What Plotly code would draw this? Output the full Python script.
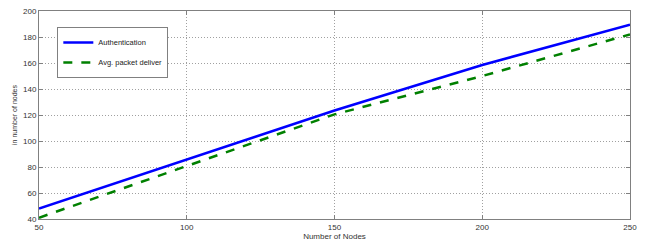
import plotly.graph_objects as go

nodes = [50, 100, 150, 200, 250]
auth = [48, 86, 123.5, 158.5, 189.5]
pdr = [41, 80.5, 120.5, 150, 182]
x_ticks = [50, 100, 150, 200, 250]
y_ticks = [40, 60, 80, 100, 120, 140, 160, 180, 200]

FONT = "Liberation Sans, Arial"

fig = go.Figure()
fig.add_trace(go.Scatter(x=nodes, y=auth, mode="lines", name="Authentication",
                         line=dict(color="#0000ff", width=2.5), legendgroup="a"))
fig.add_trace(go.Scatter(x=nodes, y=pdr, mode="lines", name="Avg. packet deliver",
                         line=dict(color="#008000", width=2.5, dash="dash"), legendgroup="b"))

axis_common = dict(
    showline=True, linecolor="#808080", linewidth=1, mirror="ticks",
    ticks="inside", ticklen=4, tickcolor="#808080",
    showgrid=True, gridcolor="#a0a0a0", griddash="1px,2px", gridwidth=1,
    zeroline=False, automargin=False,
    tickfont=dict(family=FONT, size=8, color="#333333"),
)

fig.update_layout(
    width=650, height=244,
    margin=dict(l=39, r=20, t=11, b=25),
    paper_bgcolor="white", plot_bgcolor="white",
    xaxis=dict(range=[50, 250], tickvals=x_ticks,
               title=dict(text="Number of Nodes", standoff=1,
                          font=dict(family=FONT, size=8, color="#333333")),
               **axis_common),
    yaxis=dict(range=[40, 200], tickvals=y_ticks,
               title=dict(text="in number of nodes", standoff=4,
                          font=dict(family=FONT, size=7, color="#333333")),
               **axis_common),
    legend=dict(x=0.031, y=0.923, xanchor="left", yanchor="top",
                bgcolor="white", bordercolor="#808080", borderwidth=1,
                font=dict(family=FONT, size=7.5, color="#222222"),
                itemwidth=30, tracegroupgap=1),
    showlegend=True,
)

fig.write_html("out.html", config={"displayModeBar": False},
               post_script="document.body.style.margin='0';document.body.style.padding='0';")
